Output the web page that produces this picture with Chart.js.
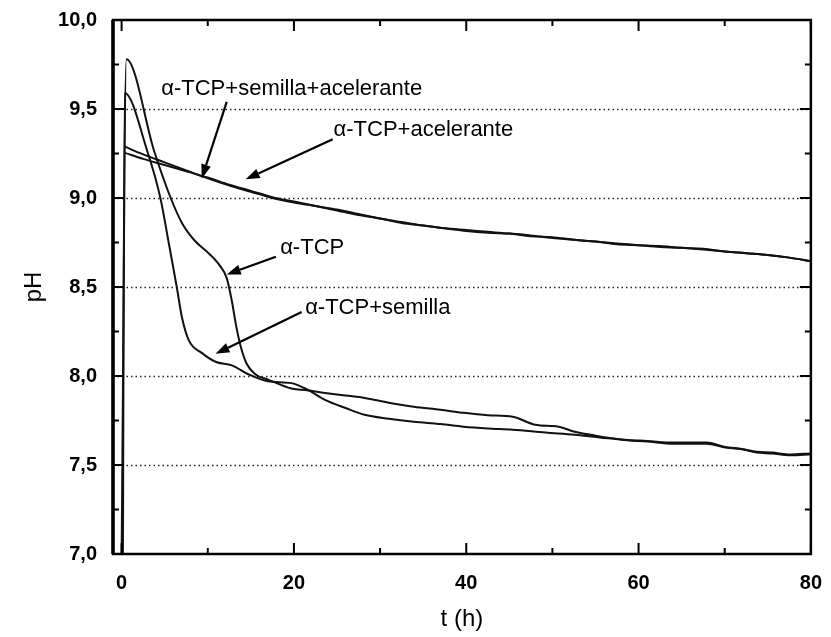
<!DOCTYPE html>
<html>
<head>
<meta charset="utf-8">
<script src="https://cdn.jsdelivr.net/npm/chart.js@4"></script>
<style>
  html, body { margin: 0; padding: 0; background: #fff; }
  canvas { display: block; }
</style>
</head>
<body>
<canvas id="c" width="831" height="637"></canvas>
<script>
// tick values
const xTicks = [0, 20, 40, 60, 80]
const yTicks = [7.0, 7.5, 8.0, 8.5, 9.0, 9.5, 10.0]

// alpha-TCP
const tcpTime = [0, 0.55, 3.8, 5.7, 7.0, 8.5, 10.1, 11.4, 12.2, 12.8, 13.3, 13.8, 14.5, 15.5, 17.0, 19.7, 21.5, 23.6, 26, 28.2, 31, 33.9, 37, 39.7, 42.5, 45.4, 48.0, 50.7, 52.6, 55.0, 58.4, 61, 64.1, 67.9, 69.9, 72, 73.7, 75.5, 77.6, 80]
const tcpPH = [7.0, 9.78, 9.26, 9.00, 8.86, 8.76, 8.69, 8.62, 8.55, 8.42, 8.28, 8.17, 8.07, 8.01, 7.98, 7.93, 7.92, 7.905, 7.89, 7.877, 7.85, 7.827, 7.81, 7.793, 7.78, 7.771, 7.726, 7.715, 7.687, 7.665, 7.642, 7.635, 7.626, 7.626, 7.603, 7.59, 7.575, 7.57, 7.559, 7.565]

// alpha-TCP + semilla
const semTime = [0.15, 0.35, 3.0, 4.5, 5.5, 6.4, 7.0, 7.8, 9.3, 10.9, 12.8, 14.7, 17.0, 19.7, 21.3, 23.6, 26, 28.2, 31, 33.9, 37, 39.7, 42.5, 45.4, 49.2, 52.6, 55.5, 58.4, 61, 64.1, 67.9, 69.9, 72, 73.7, 75.5, 77.6, 80]
const semPH = [7.0, 9.59, 9.26, 9.00, 8.74, 8.50, 8.33, 8.20, 8.13, 8.08, 8.06, 8.01, 7.97, 7.96, 7.93, 7.866, 7.82, 7.782, 7.76, 7.743, 7.73, 7.715, 7.705, 7.698, 7.682, 7.670, 7.655, 7.640, 7.632, 7.62, 7.62, 7.60, 7.588, 7.57, 7.565, 7.555, 7.56]

// the two "acelerante" runs share the time base
const acTime = [0.3, 2.5, 5, 7.5, 10, 12.5, 15, 17.5, 20, 22.5, 25, 27.5, 30, 32.5, 35, 37.5, 40, 42.5, 45, 47.5, 50, 52.5, 55, 57.5, 60, 62.5, 65, 67.5, 70, 72.5, 75, 77.5, 80]
const semAcPH = [9.29, 9.245, 9.20, 9.155, 9.11, 9.07, 9.035, 9.0, 8.975, 8.955, 8.935, 8.91, 8.885, 8.865, 8.845, 8.83, 8.815, 8.805, 8.80, 8.79, 8.775, 8.765, 8.755, 8.745, 8.735, 8.725, 8.72, 8.71, 8.70, 8.69, 8.68, 8.665, 8.645]
const acPH = [9.255, 9.22, 9.185, 9.15, 9.115, 9.075, 9.04, 9.005, 8.98, 8.955, 8.93, 8.905, 8.885, 8.86, 8.845, 8.83, 8.82, 8.81, 8.80, 8.785, 8.78, 8.765, 8.755, 8.74, 8.735, 8.73, 8.72, 8.715, 8.70, 8.69, 8.68, 8.665, 8.645]

// labels with arrows (data coords)
const notes = [
  { text: "α-TCP+semilla+acelerante", x: 4.6, y: 9.61, from: [12.2, 9.54], to: [9.3, 9.11] },
  { text: "α-TCP+acelerante", x: 24.6, y: 9.385, from: [24.5, 9.33], to: [14.4, 9.105] },
  { text: "α-TCP", x: 18.4, y: 8.72, from: [17.9, 8.67], to: [12.2, 8.57] },
  { text: "α-TCP+semilla", x: 21.3, y: 8.38, from: [20.9, 8.36], to: [10.9, 8.125] }
]

function pts(xs, ys) {
  return xs.map((x, i) => ({ x: x, y: ys[i] }))
}

function line(label, xs, ys) {
  return {
    label: label,
    data: pts(xs, ys),
    borderColor: '#111',
    borderWidth: 2,
    pointRadius: 0,
    fill: false,
    cubicInterpolationMode: 'monotone'
  }
}

function midpoints(arr) {
  let out = []
  for (let i = 0; i < arr.length - 1; i++) out.push((arr[i] + arr[i + 1]) / 2)
  return out
}

const frame = {
  id: 'frame',
  beforeDatasetsDraw(chart) {
    const ctx = chart.ctx
    const a = chart.chartArea
    const ys = chart.scales.y
    ctx.save()
    ctx.strokeStyle = '#222'
    ctx.lineWidth = 1.3
    ctx.setLineDash([1.5, 3])
    yTicks.slice(1, -1).forEach(v => {
      const p = Math.round(ys.getPixelForValue(v)) + 0.5
      ctx.beginPath()
      ctx.moveTo(a.left, p)
      ctx.lineTo(a.right, p)
      ctx.stroke()
    })
    ctx.restore()
  },
  afterDatasetsDraw(chart) {
    const ctx = chart.ctx
    const a = chart.chartArea
    const xs = chart.scales.x
    const ys = chart.scales.y
    ctx.save()
    ctx.strokeStyle = '#000'
    ctx.fillStyle = '#000'

    // box
    ctx.lineWidth = 2.5
    ctx.strokeRect(a.left, a.top, a.right - a.left, a.bottom - a.top)
    ctx.lineWidth = 3.5
    ctx.beginPath()
    ctx.moveTo(a.left, a.top); ctx.lineTo(a.left, a.bottom)
    ctx.stroke()

    // inward ticks on all four sides
    ctx.lineWidth = 2
    const xt = (v, len) => {
      const p = xs.getPixelForValue(v)
      ctx.beginPath()
      ctx.moveTo(p, a.bottom); ctx.lineTo(p, a.bottom - len)
      ctx.moveTo(p, a.top); ctx.lineTo(p, a.top + len)
      ctx.stroke()
    }
    const yt = (v, len) => {
      const p = ys.getPixelForValue(v)
      ctx.beginPath()
      ctx.moveTo(a.left, p); ctx.lineTo(a.left + len, p)
      ctx.moveTo(a.right, p); ctx.lineTo(a.right - len, p)
      ctx.stroke()
    }
    xTicks.forEach(v => xt(v, 11))
    midpoints(xTicks).forEach(v => xt(v, 6))
    yTicks.forEach(v => yt(v, 11))
    midpoints(yTicks).forEach(v => yt(v, 6))

    // annotations
    ctx.font = '22px "Liberation Sans", Arial, sans-serif'
    ctx.textBaseline = 'middle'
    ctx.textAlign = 'left'
    notes.forEach(n => {
      ctx.fillText(n.text, xs.getPixelForValue(n.x), ys.getPixelForValue(n.y))
      const x1 = xs.getPixelForValue(n.from[0]), y1 = ys.getPixelForValue(n.from[1])
      const x2 = xs.getPixelForValue(n.to[0]), y2 = ys.getPixelForValue(n.to[1])
      const ang = Math.atan2(y2 - y1, x2 - x1)
      const hl = 14, hw = 5
      const bx = x2 - hl * Math.cos(ang), by = y2 - hl * Math.sin(ang)
      ctx.lineWidth = 2.2
      ctx.beginPath()
      ctx.moveTo(x1, y1); ctx.lineTo(bx, by)
      ctx.stroke()
      ctx.beginPath()
      ctx.moveTo(x2, y2)
      ctx.lineTo(bx + hw * Math.sin(ang), by - hw * Math.cos(ang))
      ctx.lineTo(bx - hw * Math.sin(ang), by + hw * Math.cos(ang))
      ctx.closePath()
      ctx.fill()
    })
    ctx.restore()
  }
}

const tickFont = { family: '"Liberation Sans", Arial, sans-serif', size: 20, weight: 'bold' }
const titleFont = { family: '"Liberation Sans", Arial, sans-serif', size: 24 }

new Chart(document.getElementById('c'), {
  type: 'line',
  data: {
    datasets: [
      line('α-TCP', tcpTime, tcpPH),
      line('α-TCP+semilla', semTime, semPH),
      line('α-TCP+semilla+acelerante', acTime, semAcPH),
      line('α-TCP+acelerante', acTime, acPH)
    ]
  },
  options: {
    responsive: false,
    devicePixelRatio: 1,
    animation: false,
    layout: { padding: { top: 18, right: 14, left: 0, bottom: 0 } },
    plugins: { legend: { display: false }, tooltip: { enabled: false } },
    scales: {
      x: {
        type: 'linear',
        min: -1,
        max: 80,
        afterBuildTicks: s => { s.ticks = xTicks.map(v => ({ value: v })) },
        afterFit: s => { s.height = 83 },
        grid: { display: false },
        border: { display: false },
        ticks: { color: '#000', font: tickFont, padding: 9, autoSkip: false, maxRotation: 0 },
        title: { display: true, text: 't (h)', color: '#000', font: titleFont, padding: { top: 0, bottom: 3 } }
      },
      y: {
        type: 'linear',
        min: 7,
        max: 10,
        afterBuildTicks: s => { s.ticks = yTicks.map(v => ({ value: v })) },
        afterFit: s => { s.width = 113 },
        grid: { display: false },
        border: { display: false },
        ticks: {
          color: '#000', font: tickFont, padding: 8, autoSkip: false,
          callback: v => v.toFixed(1).replace('.', ',')
        },
        title: { display: true, text: 'pH', color: '#000', font: titleFont, padding: { top: 20, bottom: 0 } }
      }
    }
  },
  plugins: [frame]
})
</script>
</body>
</html>
